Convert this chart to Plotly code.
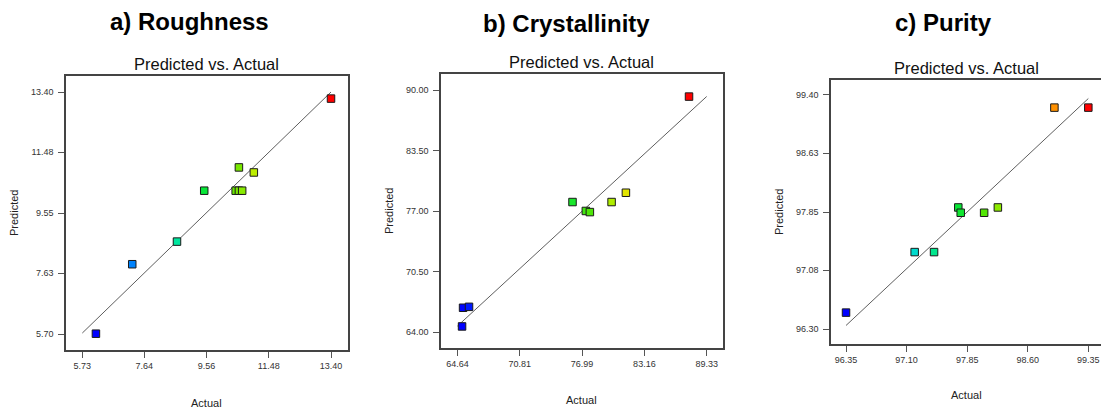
import plotly.graph_objects as go

# ---------------- data ----------------
rough_actual = [6.15, 7.27, 8.65, 9.49, 10.46, 10.56, 10.66, 10.56, 11.02, 13.40]
rough_pred = [5.71, 7.92, 8.64, 10.26, 10.26, 10.26, 10.26, 11.00, 10.84, 13.19]
rough_xticks = [5.73, 7.64, 9.56, 11.48, 13.40]
rough_yticks = [5.70, 7.63, 9.55, 11.48, 13.40]
rough_xlabels = ["5.73", "7.64", "9.56", "11.48", "13.40"]
rough_ylabels = ["5.70", "7.63", "9.55", "11.48", "13.40"]

cryst_actual = [65.10, 65.20, 65.79, 76.04, 77.36, 77.76, 79.91, 81.33, 87.58]
cryst_pred = [64.60, 66.61, 66.71, 77.98, 77.02, 76.90, 77.98, 78.98, 89.32]
cryst_xticks = [64.64, 70.81, 76.99, 83.16, 89.33]
cryst_yticks = [64.00, 70.50, 77.00, 83.50, 90.00]
cryst_xlabels = ["64.64", "70.81", "76.99", "83.16", "89.33"]
cryst_ylabels = ["64.00", "70.50", "77.00", "83.50", "90.00"]

pur_actual = [96.35, 97.20, 97.44, 97.74, 97.77, 98.06, 98.23, 98.93, 99.35]
pur_pred = [96.52, 97.32, 97.32, 97.91, 97.84, 97.84, 97.91, 99.23, 99.23]
pur_xticks = [96.35, 97.10, 97.85, 98.60, 99.35]
pur_yticks = [96.30, 97.08, 97.85, 98.63, 99.40]
pur_xlabels = ["96.35", "97.10", "97.85", "98.60", "99.35"]
pur_ylabels = ["96.30", "97.08", "97.85", "98.63", "99.40"]

panel_titles = ["a) Roughness", "b) Crystallinity", "c) Purity"]
sub_title = "Predicted vs. Actual"
x_title = "Actual"
y_title = "Predicted"

# ---------------- styling ----------------
W, H = 1101, 412
FONT = "Arial, Liberation Sans, sans-serif"
scale = [
    [0.0, "rgb(0,0,255)"],
    [0.15, "rgb(0,128,255)"],
    [0.30, "rgb(0,230,200)"],
    [0.45, "rgb(0,230,60)"],
    [0.58, "rgb(90,230,0)"],
    [0.70, "rgb(220,240,0)"],
    [0.85, "rgb(255,155,0)"],
    [1.0, "rgb(255,0,0)"],
]

panels = [
    dict(ax=rough_actual, pr=rough_pred, xt=rough_xticks, yt=rough_yticks,
         xl=rough_xlabels, yl=rough_ylabels,
         px=(66, 348), py=(76, 350), xr=[5.227, 13.924], yr=[5.191, 13.909],
         mirror_right=True,
         title_xy=(189, 22), sub_xy=(206, 64), ytit_xy=(14, 213), xtit_xy=(206, 403)),
    dict(ax=cryst_actual, pr=cryst_pred, xt=cryst_xticks, yt=cryst_yticks,
         xl=cryst_xlabels, yl=cryst_ylabels,
         px=(441, 723), py=(74, 348), xr=[63.014, 90.946], yr=[62.283, 91.749],
         mirror_right=True,
         title_xy=(566, 24), sub_xy=(581, 62), ytit_xy=(389, 211), xtit_xy=(581, 400)),
    dict(ax=pur_actual, pr=pur_pred, xt=pur_xticks, yt=pur_yticks,
         xl=pur_xlabels, yl=pur_ylabels,
         px=(831, 1101), py=(80, 344), xr=[96.164, 99.507], yr=[96.105, 99.595],
         mirror_right=False,
         title_xy=(943, 23), sub_xy=(966, 68), ytit_xy=(779, 212), xtit_xy=(966, 395)),
]

fig = go.Figure()
annotations = []
layout_axes = {}

for i, p in enumerate(panels, start=1):
    xa = "x" if i == 1 else f"x{i}"
    ya = "y" if i == 1 else f"y{i}"
    lo = min(p["ax"])
    hi = max(p["ax"])
    # y = x fit line across the tick span
    fig.add_trace(go.Scatter(
        x=[p["xt"][0], p["xt"][-1]], y=[p["xt"][0], p["xt"][-1]],
        mode="lines", line=dict(color="#5e5e5e", width=1),
        xaxis=xa, yaxis=ya, showlegend=False, hoverinfo="skip"))
    fig.add_trace(go.Scatter(
        x=p["ax"], y=p["pr"], mode="markers",
        marker=dict(symbol="square", size=7.5, color=p["ax"], colorscale=scale,
                    cmin=lo, cmax=hi, line=dict(color="#1a1a1a", width=1)),
        xaxis=xa, yaxis=ya, showlegend=False))

    xd = [p["px"][0] / W, p["px"][1] / W]
    yd = [1 - p["py"][1] / H, 1 - p["py"][0] / H]
    key_x = "xaxis" if i == 1 else f"xaxis{i}"
    key_y = "yaxis" if i == 1 else f"yaxis{i}"
    layout_axes[key_x] = dict(
        domain=xd, range=p["xr"], anchor=ya, tickvals=p["xt"], ticktext=p["xl"],
        ticks="outside", ticklen=6, tickcolor="#555", tickwidth=1,
        showline=True, linecolor="#444", linewidth=1.5, mirror=True,
        showgrid=False, zeroline=False,
        tickfont=dict(family=FONT, size=9, color="#333"))
    layout_axes[key_y] = dict(
        domain=yd, range=p["yr"], anchor=xa, tickvals=p["yt"], ticktext=p["yl"],
        ticks="outside", ticklen=6, tickcolor="#555", tickwidth=1,
        showline=True, linecolor="#444", linewidth=1.5,
        mirror=True if p["mirror_right"] else False,
        showgrid=False, zeroline=False, ticklabelstandoff=3,
        tickfont=dict(family=FONT, size=9, color="#333"))

    annotations.append(dict(
        text="<b>" + panel_titles[i - 1] + "</b>", x=p["title_xy"][0] / W,
        y=1 - p["title_xy"][1] / H, xref="paper", yref="paper",
        showarrow=False, xanchor="center", yanchor="middle",
        font=dict(family=FONT, size=24, color="#000")))
    annotations.append(dict(
        text=sub_title, x=p["sub_xy"][0] / W, y=1 - p["sub_xy"][1] / H,
        xref="paper", yref="paper", showarrow=False, xanchor="center",
        yanchor="middle", font=dict(family=FONT, size=16.5, color="#111")))
    annotations.append(dict(
        text=y_title, x=p["ytit_xy"][0] / W, y=1 - p["ytit_xy"][1] / H,
        xref="paper", yref="paper", showarrow=False, textangle=-90,
        xanchor="center", yanchor="middle",
        font=dict(family=FONT, size=11, color="#222")))
    annotations.append(dict(
        text=x_title, x=p["xtit_xy"][0] / W, y=1 - p["xtit_xy"][1] / H,
        xref="paper", yref="paper", showarrow=False,
        xanchor="center", yanchor="middle",
        font=dict(family=FONT, size=11, color="#222")))

fig.update_layout(
    width=W, height=H, margin=dict(l=0, r=0, t=0, b=0),
    paper_bgcolor="white", plot_bgcolor="white",
    annotations=annotations, **layout_axes)

fig.write_html("out.html")
